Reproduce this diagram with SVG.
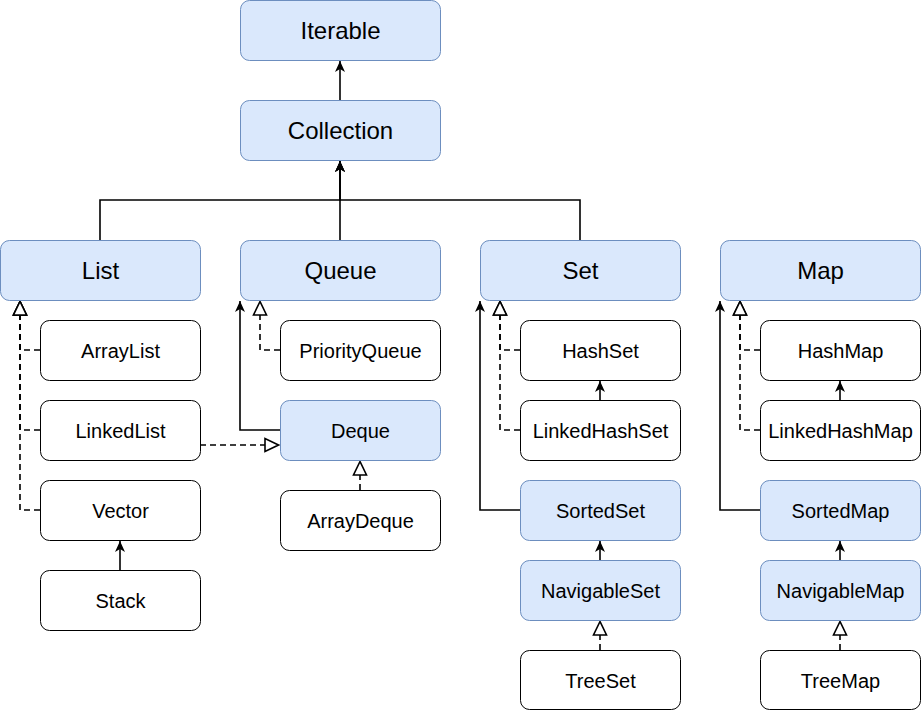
<svg xmlns="http://www.w3.org/2000/svg" width="921" height="711" viewBox="0 0 921 711">
<style>
.i{fill:#dae8fc;stroke:#6c8ebf;stroke-width:1}
.c{fill:#ffffff;stroke:#000000;stroke-width:1}
.t{font-family:"Liberation Sans",Helvetica,Arial,sans-serif;fill:#000;text-anchor:middle}
.L{font-size:24px}
.S{font-size:20px}
.e{fill:none;stroke:#000;stroke-width:1.6}
.d{stroke-dasharray:6 4}
.a{marker-end:url(#arr)}
.h{marker-end:url(#hol)}
</style>
<defs>
<marker id="arr" viewBox="-13 -7 14 14" refX="0" refY="0" markerWidth="14" markerHeight="14" markerUnits="userSpaceOnUse" orient="auto">
<path d="M0,0 L-11,-5 L-8,0 L-11,5 Z" fill="#000"/>
</marker>
<marker id="hol" viewBox="-16 -9 17 18" refX="0" refY="0" markerWidth="17" markerHeight="18" markerUnits="userSpaceOnUse" orient="auto">
<path d="M-0.5,0 L-14,-6.5 L-14,6.5 Z" fill="#fff" stroke="#000" stroke-width="1.6"/>
</marker>
</defs>
<g id="connectors">
<path class="e a" d="M340,100 V61"/>
<path class="e a" d="M100,240 V200 H340 V161"/>
<path class="e a" d="M340,240 V161"/>
<path class="e a" d="M580,240 V200 H340 V161"/>
<path class="e d h" d="M40,350 H20 V301"/>
<path class="e d h" d="M40,430 H20 V301"/>
<path class="e d h" d="M40,510 H20 V301"/>
<path class="e d h" d="M200,445 H279"/>
<path class="e a" d="M120,570 V541"/>
<path class="e d h" d="M280,350 H260 V301"/>
<path class="e a" d="M280,430 H240 V301"/>
<path class="e d h" d="M360,490 V461"/>
<path class="e d h" d="M520,350 H500 V301"/>
<path class="e d h" d="M520,430 H500 V301"/>
<path class="e a" d="M600,400 V381"/>
<path class="e a" d="M520,510 H480 V301"/>
<path class="e a" d="M600,560 V541"/>
<path class="e d h" d="M600,650 V621"/>
<path class="e d h" d="M760,350 H740 V301"/>
<path class="e d h" d="M760,430 H740 V301"/>
<path class="e a" d="M840,400 V381"/>
<path class="e a" d="M760,510 H720 V301"/>
<path class="e a" d="M840,560 V541"/>
<path class="e d h" d="M840,650 V621"/>
</g>
<g id="Iterable"><rect class="i" x="240.5" y="0.5" width="200" height="60" rx="9"/><text class="t L" x="340.5" y="39">Iterable</text></g>
<g id="Collection"><rect class="i" x="240.5" y="100.5" width="200" height="60" rx="9"/><text class="t L" x="340.5" y="139">Collection</text></g>
<g id="List"><rect class="i" x="0.5" y="240.5" width="200" height="60" rx="9"/><text class="t L" x="100.5" y="279">List</text></g>
<g id="Queue"><rect class="i" x="240.5" y="240.5" width="200" height="60" rx="9"/><text class="t L" x="340.5" y="279">Queue</text></g>
<g id="Set"><rect class="i" x="480.5" y="240.5" width="200" height="60" rx="9"/><text class="t L" x="580.5" y="279">Set</text></g>
<g id="Map"><rect class="i" x="720.5" y="240.5" width="200" height="60" rx="9"/><text class="t L" x="820.5" y="279">Map</text></g>
<g id="ArrayList"><rect class="c" x="40.5" y="320.5" width="160" height="60" rx="9"/><text class="t S" x="120.5" y="357.5">ArrayList</text></g>
<g id="LinkedList"><rect class="c" x="40.5" y="400.5" width="160" height="60" rx="9"/><text class="t S" x="120.5" y="437.5">LinkedList</text></g>
<g id="Vector"><rect class="c" x="40.5" y="480.5" width="160" height="60" rx="9"/><text class="t S" x="120.5" y="517.5">Vector</text></g>
<g id="Stack"><rect class="c" x="40.5" y="570.5" width="160" height="60" rx="9"/><text class="t S" x="120.5" y="607.5">Stack</text></g>
<g id="PriorityQueue"><rect class="c" x="280.5" y="320.5" width="160" height="60" rx="9"/><text class="t S" x="360.5" y="357.5">PriorityQueue</text></g>
<g id="Deque"><rect class="i" x="280.5" y="400.5" width="160" height="60" rx="9"/><text class="t S" x="360.5" y="437.5">Deque</text></g>
<g id="ArrayDeque"><rect class="c" x="280.5" y="490.5" width="160" height="60" rx="9"/><text class="t S" x="360.5" y="527.5">ArrayDeque</text></g>
<g id="HashSet"><rect class="c" x="520.5" y="320.5" width="160" height="60" rx="9"/><text class="t S" x="600.5" y="357.5">HashSet</text></g>
<g id="LinkedHashSet"><rect class="c" x="520.5" y="400.5" width="160" height="60" rx="9"/><text class="t S" x="600.5" y="437.5">LinkedHashSet</text></g>
<g id="SortedSet"><rect class="i" x="520.5" y="480.5" width="160" height="60" rx="9"/><text class="t S" x="600.5" y="517.5">SortedSet</text></g>
<g id="NavigableSet"><rect class="i" x="520.5" y="560.5" width="160" height="60" rx="9"/><text class="t S" x="600.5" y="597.5">NavigableSet</text></g>
<g id="TreeSet"><rect class="c" x="520.5" y="650.5" width="160" height="59" rx="9"/><text class="t S" x="600.5" y="687.5">TreeSet</text></g>
<g id="HashMap"><rect class="c" x="760.5" y="320.5" width="160" height="60" rx="9"/><text class="t S" x="840.5" y="357.5">HashMap</text></g>
<g id="LinkedHashMap"><rect class="c" x="760.5" y="400.5" width="160" height="60" rx="9"/><text class="t S" x="840.5" y="437.5">LinkedHashMap</text></g>
<g id="SortedMap"><rect class="i" x="760.5" y="480.5" width="160" height="60" rx="9"/><text class="t S" x="840.5" y="517.5">SortedMap</text></g>
<g id="NavigableMap"><rect class="i" x="760.5" y="560.5" width="160" height="60" rx="9"/><text class="t S" x="840.5" y="597.5">NavigableMap</text></g>
<g id="TreeMap"><rect class="c" x="760.5" y="650.5" width="160" height="59" rx="9"/><text class="t S" x="840.5" y="687.5">TreeMap</text></g>
</svg>
